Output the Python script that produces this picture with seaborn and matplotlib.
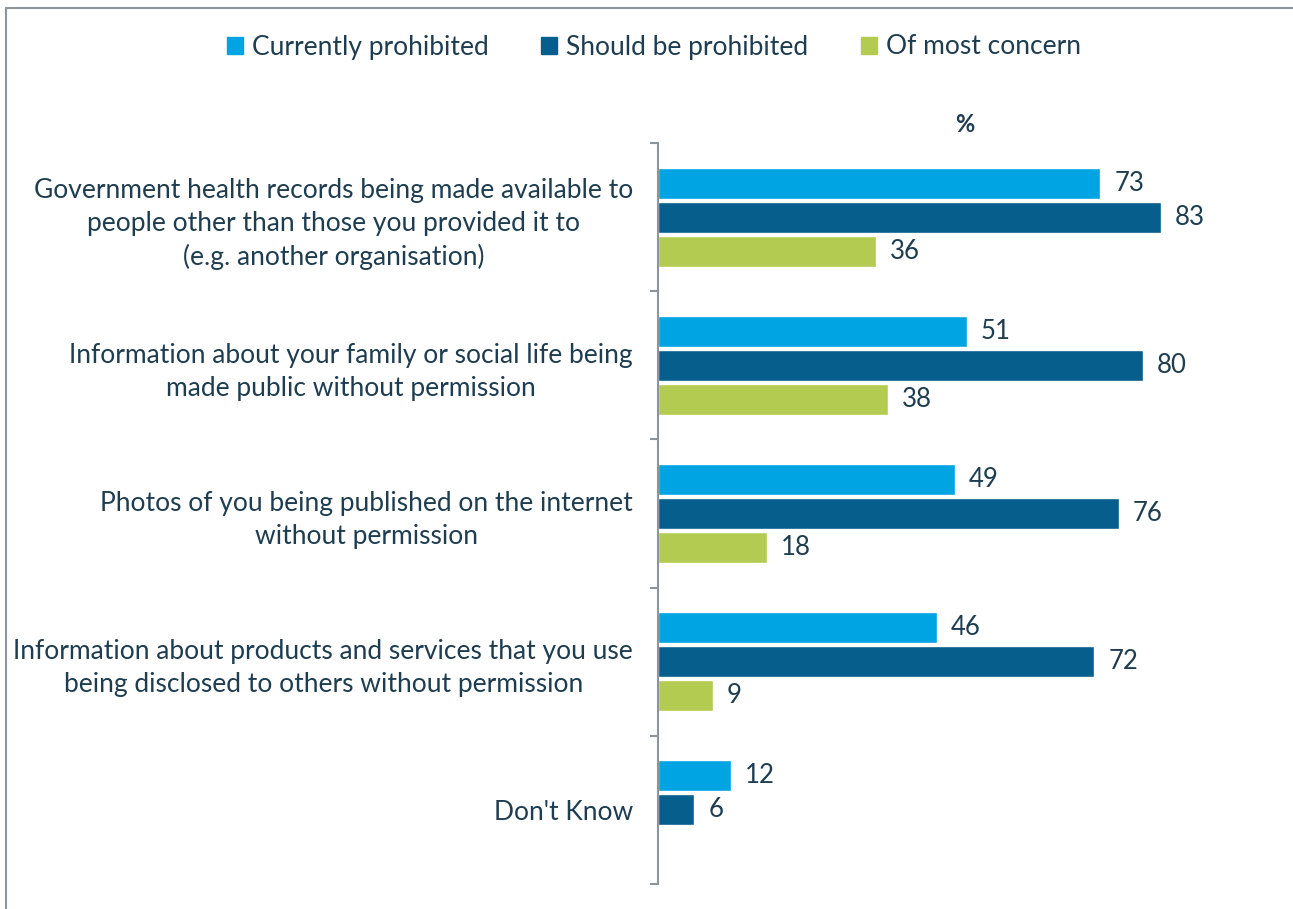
import numpy as np
import pandas as pd
import matplotlib
matplotlib.use("Agg")
import matplotlib.pyplot as plt
from matplotlib.lines import Line2D
import seaborn as sns

categories = [
    "Government health records being made available to\npeople other than those you provided it to\n(e.g. another organisation)",
    "Information about your family or social life being\nmade public without permission",
    "Photos of you being published on the internet\nwithout permission",
    "Information about products and services that you use\nbeing disclosed to others without permission",
    "Don't Know",
]
series = ["Currently prohibited", "Should be prohibited", "Of most concern"]
currently_prohibited = [73, 51, 49, 46, 12]
should_be_prohibited = [83, 80, 76, 72, 6]
of_most_concern = [36, 38, 18, 9, np.nan]
colors = ["#00A4E2", "#065E8D", "#B3CB51"]

text_color = "#1E3D50"
axis_color = "#8C959B"

df = pd.DataFrame({
    "category": categories * 3,
    "series": [series[0]] * 5 + [series[1]] * 5 + [series[2]] * 5,
    "value": currently_prohibited + should_be_prohibited + of_most_concern,
})

sns.set_theme(style="white")
plt.rcParams["font.family"] = ["Lato", "DejaVu Sans"]

fig = plt.figure(figsize=(12.93, 9.09), dpi=100)
ax = fig.add_axes([658 / 1293, 1 - 884 / 909, (1264 - 658) / 1293, (884 - 143) / 909])

sns.barplot(
    data=df, y="category", x="value", hue="series",
    order=categories, hue_order=series, palette=colors,
    orient="h", width=0.69, gap=0.09, errorbar=None, legend=False,
    saturation=1, ax=ax,
)

for container in ax.containers:
    ax.bar_label(container, fmt="%.0f", padding=10, fontsize=18.5, color=text_color)

ax.set_xlim(0, 100)
ax.set_ylim(len(categories) - 0.5, -0.5)
ax.set_xlabel("")
ax.set_ylabel("")
ax.set_xticks([])

# category labels at centers, tick marks at category boundaries
ax.set_yticks(range(len(categories)))
ax.set_yticklabels(categories, fontsize=19, color=text_color)
ax.tick_params(axis="y", which="major", left=True, length=0, pad=18)
ax.set_yticks(np.arange(-0.5, len(categories), 1.0), minor=True)
ax.tick_params(axis="y", which="minor", left=True, length=6, width=1.5,
               color=axis_color, direction="out")
for lab in ax.get_yticklabels():
    lab.set_multialignment("center")
    lab.set_linespacing(1.4)

for side in ["top", "right", "bottom"]:
    ax.spines[side].set_visible(False)
ax.spines["left"].set_color(axis_color)
ax.spines["left"].set_linewidth(1.5)

ax.text((965 - 658) / (1264 - 658), 1 + (143 - 125) / (884 - 143), "%",
        transform=ax.transAxes, ha="center", va="center",
        fontsize=17, fontweight="bold", color=text_color)

handles = [plt.Rectangle((0, 0), 1, 1, color=c) for c in colors]
fig.legend(handles, series, loc="center", bbox_to_anchor=(654 / 1293, 1 - 47 / 909),
           ncol=3, frameon=False, fontsize=19, handlelength=0.6, handleheight=0.6,
           handletextpad=0.35, columnspacing=2.0, labelcolor=text_color)

# outer frame (left and top edges)
fig.add_artist(Line2D([5.5 / 1293, 5.5 / 1293], [0, 1 - 7.5 / 909],
                      transform=fig.transFigure, color=axis_color, lw=1.5))
fig.add_artist(Line2D([5.5 / 1293, 1], [1 - 7.5 / 909, 1 - 7.5 / 909],
                      transform=fig.transFigure, color=axis_color, lw=1.5))

fig.savefig("out.png", dpi=100)
